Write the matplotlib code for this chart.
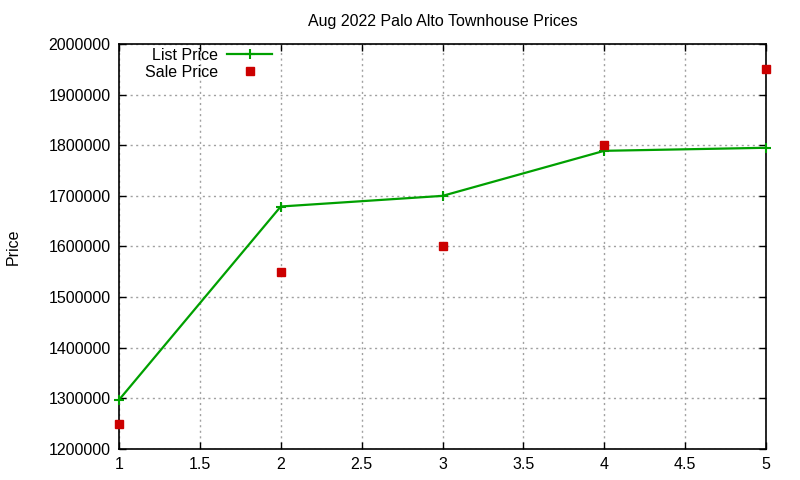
import matplotlib
matplotlib.use('Agg')
import matplotlib.pyplot as plt

# data
listing = [1, 2, 3, 4, 5]
list_price = [1297000, 1679000, 1700000, 1789000, 1795000]
sale_price = [1250000, 1550000, 1600000, 1800000, 1950000]

plt.rcParams['font.family'] = ['Liberation Sans', 'DejaVu Sans']
plt.rcParams['font.size'] = 11.5

fig = plt.figure(figsize=(8, 4.8), dpi=100)
ax = fig.add_axes([119 / 800, 1 - 449 / 480, (766 - 119) / 800, (449 - 44) / 480])

ax.plot(listing, list_price, color='#00a000', linewidth=1.6, marker='+',
        markersize=7, markeredgewidth=1.5, label='List Price', clip_on=False, zorder=3)
ax.plot(listing, sale_price, linestyle='none', color='#cc0000', marker='s',
        markersize=5.5, label='Sale Price', clip_on=False, zorder=4)

ax.set_xlim(1, 5)
ax.set_ylim(1200000, 2000000)
ax.set_xticks([1, 1.5, 2, 2.5, 3, 3.5, 4, 4.5, 5])
ax.set_xticklabels(['1', '1.5', '2', '2.5', '3', '3.5', '4', '4.5', '5'])
ax.set_yticks(range(1200000, 2000001, 100000))
ax.ticklabel_format(axis='y', style='plain', useOffset=False)
ax.tick_params(direction='in', top=True, right=True, length=5, width=1, pad=6)
ax.grid(True, color='#a0a0a0', linestyle=(0, (1.5, 2.5)), linewidth=1)
for s in ax.spines.values():
    s.set_linewidth(1.2)

ax.set_ylabel('Price', labelpad=20)
ax.set_title('Aug 2022 Palo Alto Townhouse Prices', pad=13, fontsize=11.5)

ax.legend(loc='upper left', bbox_to_anchor=(0.025, 1.015), frameon=False,
          markerfirst=False, handlelength=2.8, borderaxespad=0.2,
          labelspacing=0.15, handletextpad=0.6)

fig.savefig('out.png', dpi=100)
